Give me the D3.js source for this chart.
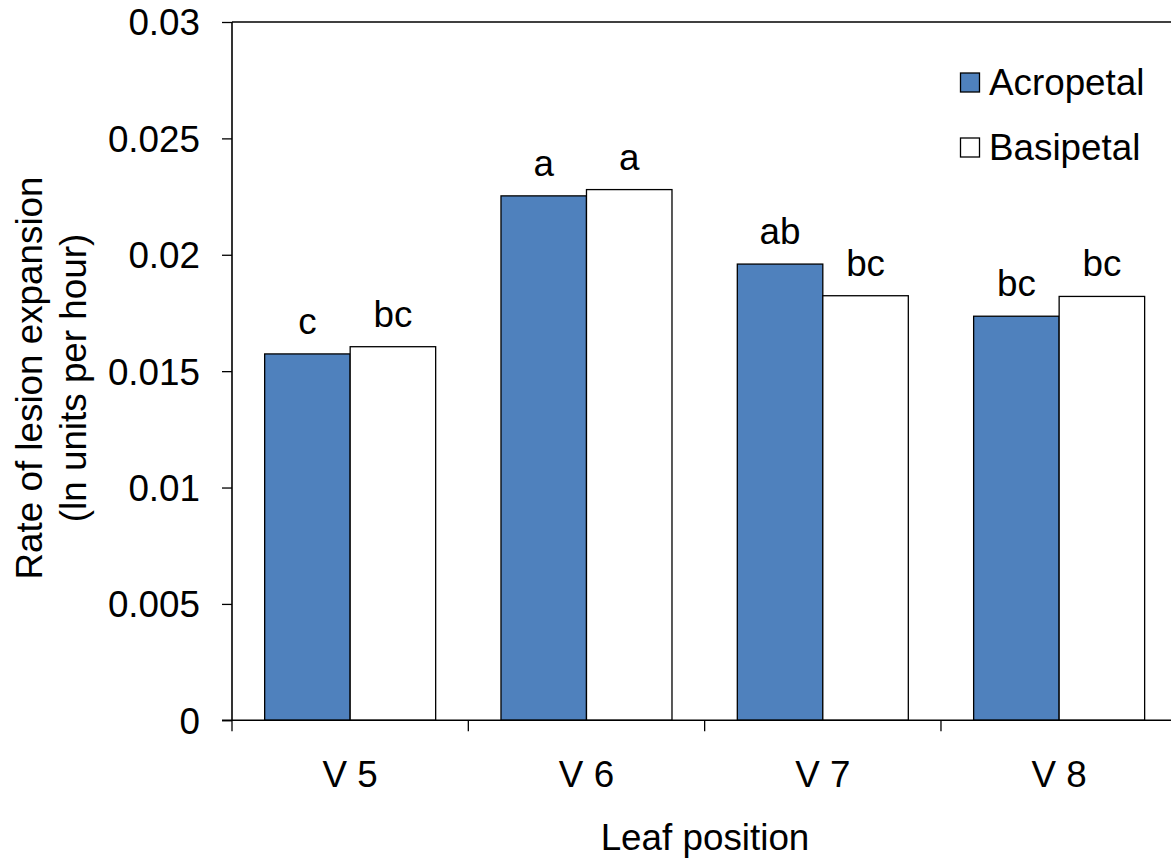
<!DOCTYPE html>
<html>
<head>
<meta charset="utf-8">
<script src="https://cdn.jsdelivr.net/npm/d3@7"></script>
<style>
  html, body { margin: 0; padding: 0; background: #fff; overflow: hidden; }
  svg { display: block; }
  text { font-family: "Liberation Sans", Arial, sans-serif; fill: #000; }
</style>
</head>
<body>
<svg id="chart" width="1171" height="861"></svg>
<script>
// Leaf positions along the x axis
const categories = ["V 5", "V 6", "V 7", "V 8"];
// Series names (legend order)
const seriesNames = ["Acropetal", "Basipetal"];
// Rate of lesion expansion, ln units per hour
const acropetal = [0.01574, 0.02253, 0.01960, 0.01736];
const basipetal = [0.01605, 0.02280, 0.01824, 0.01821];
// Mean-separation letters above each bar
const acropetalLetters = ["c", "a", "ab", "bc"];
const basipetalLetters = ["bc", "a", "bc", "bc"];
// Y axis ticks and their labels
const yTicks = [0, 0.005, 0.01, 0.015, 0.02, 0.025, 0.03];
const yTickLabels = ["0", "0.005", "0.01", "0.015", "0.02", "0.025", "0.03"];

const seriesValues = [acropetal, basipetal];
const seriesLetters = [acropetalLetters, basipetalLetters];
const seriesFill = ["#4F81BD", "#FFFFFF"];

const svg = d3.select("#chart");
const FONT = 36.8;

const plot = { left: 232, right: 1177.3, top: 22, bottom: 720.3 };

const x = d3.scaleBand()
  .domain(categories)
  .range([plot.left, plot.right])
  .paddingInner(0)
  .paddingOuter(0);

const xSub = d3.scaleBand()
  .domain(seriesNames)
  .range([0, x.bandwidth()])
  .paddingInner(0)
  .paddingOuter(0.382);

const y = d3.scaleLinear()
  .domain([0, 0.03])
  .range([plot.bottom, plot.top]);

// Plot-area top border
svg.append("line")
  .attr("x1", plot.left).attr("x2", plot.right)
  .attr("y1", y(0.03)).attr("y2", y(0.03))
  .attr("stroke", "#000").attr("stroke-width", 1.6);

// Bars
seriesNames.forEach((name, si) => {
  const g = svg.append("g");
  g.selectAll("rect")
    .data(categories.map((c, i) => ({ c, v: seriesValues[si][i] })))
    .join("rect")
    .attr("x", d => x(d.c) + xSub(name))
    .attr("width", xSub.bandwidth())
    .attr("y", d => y(d.v))
    .attr("height", d => y(0) - y(d.v))
    .attr("fill", seriesFill[si])
    .attr("stroke", "#000")
    .attr("stroke-width", 1.3);

  g.selectAll("text")
    .data(categories.map((c, i) => ({ c, v: seriesValues[si][i], t: seriesLetters[si][i] })))
    .join("text")
    .attr("x", d => x(d.c) + xSub(name) + xSub.bandwidth() / 2)
    .attr("y", d => y(d.v) - 20)
    .attr("text-anchor", "middle")
    .attr("font-size", FONT)
    .text(d => d.t);
});

// Y axis
const yAxis = d3.axisLeft(y)
  .tickValues(yTicks)
  .tickFormat((d, i) => yTickLabels[i])
  .tickSize(10)
  .tickPadding(22);

const yg = svg.append("g")
  .attr("transform", `translate(${plot.left},0)`)
  .call(yAxis);
yg.select(".domain").attr("stroke", "#000").attr("stroke-width", 1.6)
  .attr("d", `M0,${plot.top}V${plot.bottom}`);
yg.selectAll(".tick line").attr("stroke", "#000").attr("stroke-width", 1.3);
yg.selectAll(".tick text")
  .attr("font-size", FONT)
  .attr("font-family", "Liberation Sans, Arial, sans-serif")
  .attr("fill", "#000")
  .attr("dy", "0.35em");

// X axis line
svg.append("line")
  .attr("x1", plot.left - 10).attr("x2", plot.right)
  .attr("y1", y(0)).attr("y2", y(0))
  .attr("stroke", "#000").attr("stroke-width", 1.6);

// Category boundary ticks
const boundaries = categories.map(c => x(c)).concat([x.range()[1]]);
svg.append("g").selectAll("line")
  .data(boundaries)
  .join("line")
  .attr("x1", d => d).attr("x2", d => d)
  .attr("y1", y(0)).attr("y2", y(0) + 11)
  .attr("stroke", "#000").attr("stroke-width", 1.3);

// Category labels
svg.append("g").selectAll("text")
  .data(categories)
  .join("text")
  .attr("x", d => x(d) + x.bandwidth() / 2)
  .attr("y", 787)
  .attr("text-anchor", "middle")
  .attr("font-size", FONT)
  .text(d => d);

// Axis titles
svg.append("text")
  .attr("x", 705)
  .attr("y", 850)
  .attr("text-anchor", "middle")
  .attr("font-size", FONT)
  .text("Leaf position");

const yTitle = svg.append("text")
  .attr("transform", "translate(0,378) rotate(-90)")
  .attr("text-anchor", "middle")
  .attr("font-size", FONT);
yTitle.append("tspan").attr("x", 0).attr("y", 42).text("Rate of lesion expansion");
yTitle.append("tspan").attr("x", 0).attr("y", 86).text("(ln units per hour)");

// Legend
const legend = svg.append("g");
seriesNames.forEach((name, i) => {
  const cy = 82.5 + i * 65;
  legend.append("rect")
    .attr("x", 960.5).attr("y", cy - 9.5)
    .attr("width", 19).attr("height", 19)
    .attr("fill", seriesFill[i])
    .attr("stroke", "#000").attr("stroke-width", 1.3);
  legend.append("text")
    .attr("x", 989)
    .attr("y", cy + 12)
    .attr("font-size", FONT)
    .text(name);
});
</script>
</body>
</html>
